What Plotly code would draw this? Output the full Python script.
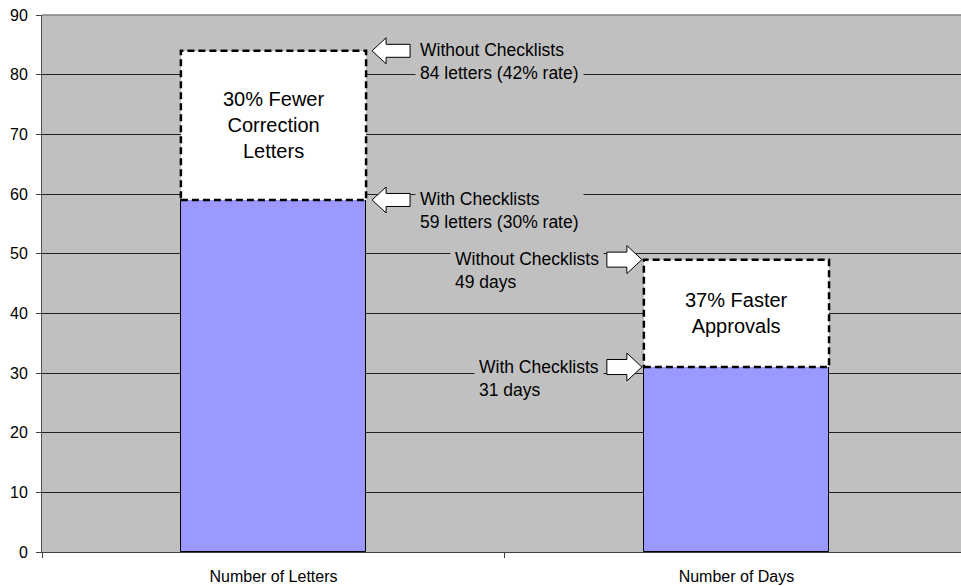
import plotly.graph_objects as go

# Review outcomes, with and without plan-review checklists
categories = ["Number of Letters", "Number of Days"]
with_checklists = [59, 31]
without_checklists = [84, 49]
with_labels = ["With Checklists<br>59 letters (30% rate)", "With Checklists<br>31 days"]
without_labels = ["Without Checklists<br>84 letters (42% rate)", "Without Checklists<br>49 days"]
gain_labels = ["30% Fewer<br>Correction<br>Letters", "37% Faster<br>Approvals"]
y_ticks = list(range(0, 91, 10))

# Figure geometry
W, H = 961, 586
M_L, M_R, M_T, M_B = 42, 0, 15, 34
X_RANGE = [-0.5, 1.485]
Y_RANGE = [0, 90]
BAR_W = 0.4
PLOT_W = W - M_L - M_R
PLOT_H = H - M_T - M_B
PX_PER_X = PLOT_W / (X_RANGE[1] - X_RANGE[0])
PX_PER_Y = PLOT_H / (Y_RANGE[1] - Y_RANGE[0])

GRAY = "#C0C0C0"
BLUE = "#9999FF"
FONT = "Arial, Liberation Sans, sans-serif"


def xpaper(xd, dpx=0.0):
    """Category-axis value (plus a pixel offset) as a paper fraction."""
    return (xd - X_RANGE[0]) / (X_RANGE[1] - X_RANGE[0]) + dpx / PLOT_W


def dy(px):
    return px / PX_PER_Y


def block_arrow(tip_x, y, direction, length=37, head=15, head_half=13, shaft_half=7):
    """Closed path for a block arrow; tip_x in paper units, y in data units."""
    s = direction  # +1 points right, -1 points left
    def px(off):
        return tip_x - s * off / PLOT_W
    pts = [
        (px(0), y),
        (px(head), y + dy(head_half)),
        (px(head), y + dy(shaft_half)),
        (px(length), y + dy(shaft_half)),
        (px(length), y - dy(shaft_half)),
        (px(head), y - dy(shaft_half)),
        (px(head), y - dy(head_half)),
    ]
    return "M " + " L ".join(f"{a:.5f},{b:.4f}" for a, b in pts) + " Z"


fig = go.Figure()

fig.add_trace(go.Bar(
    x=categories, y=with_checklists, width=BAR_W,
    marker=dict(color=BLUE, line=dict(color="black", width=1)),
    name="With Checklists", showlegend=False, hoverinfo="skip",
))
fig.add_trace(go.Bar(
    x=categories,
    y=[b - a for a, b in zip(with_checklists, without_checklists)],
    base=with_checklists, width=BAR_W,
    marker=dict(color="white", line=dict(width=0)),
    name="Without Checklists", showlegend=False, hoverinfo="skip",
))

shapes = []
annotations = []
for i, (lo, hi) in enumerate(zip(with_checklists, without_checklists)):
    # dashed outline around the savings segment
    shapes.append(dict(
        type="rect", xref="x", yref="y",
        x0=i - BAR_W / 2, x1=i + BAR_W / 2, y0=lo, y1=hi,
        line=dict(color="black", width=2.5, dash="7px,4px"),
        fillcolor="rgba(0,0,0,0)", layer="above",
    ))
    annotations.append(dict(
        x=i, y=(lo + hi) / 2, xref="x", yref="y", text=gain_labels[i],
        showarrow=False, font=dict(family=FONT, size=20, color="black"),
        align="center",
    ))

# callouts: first group on the right of the bar, second group on the left
for i, (lo, hi) in enumerate(zip(with_checklists, without_checklists)):
    for val, label in ((hi, without_labels[i]), (lo, with_labels[i])):
        if i == 0:
            tip = xpaper(i + BAR_W / 2, 6)
            path = block_arrow(tip, val, -1, length=38, head=14, head_half=13, shaft_half=6.5)
            ax = xpaper(i + BAR_W / 2, 6 + 38 + 5)
            anchor = "left"
        else:
            tip = xpaper(i - BAR_W / 2, -2)
            path = block_arrow(tip, val, 1, length=35, head=15, head_half=14, shaft_half=7.5)
            ax = xpaper(i - BAR_W / 2, -2 - 35 - 3)
            anchor = "right"
        shapes.append(dict(
            type="path", xref="paper", yref="y", path=path,
            fillcolor="white", line=dict(color="black", width=1), layer="above",
        ))
        annotations.append(dict(
            x=ax, y=val, xref="paper", yref="y", xanchor=anchor, yanchor="middle",
            yshift=-11, text=label, showarrow=False, align="left",
            font=dict(family=FONT, size=17.5, color="black"),
            bgcolor=GRAY, borderpad=4,
        ))

# top edge of the plot frame
shapes.append(dict(
    type="line", xref="paper", yref="paper", x0=0, x1=1, y0=1, y1=1,
    line=dict(color="#808080", width=1.5), layer="above",
))

fig.update_layout(
    width=W, height=H,
    margin=dict(l=M_L, r=M_R, t=M_T, b=M_B, pad=0),
    paper_bgcolor="white", plot_bgcolor=GRAY,
    barmode="overlay", bargap=0,
    shapes=shapes, annotations=annotations,
    font=dict(family=FONT, size=16, color="black"),
)
fig.update_xaxes(
    type="category", range=X_RANGE, tickson="boundaries",
    ticks="outside", ticklen=5, tickcolor="#404040",
    showline=True, linecolor="#404040", linewidth=1,
    showgrid=False, tickfont=dict(family=FONT, size=16, color="black"),
    ticklabelstandoff=10,
)
fig.update_yaxes(
    range=Y_RANGE, tickvals=y_ticks,
    ticks="outside", ticklen=5, tickcolor="#404040",
    showline=True, linecolor="#505050", linewidth=1,
    showgrid=True, gridcolor="#202020", gridwidth=1,
    zeroline=False, tickfont=dict(family=FONT, size=16, color="black"),
    ticklabelstandoff=5,
)

fig.write_html("out.html")
